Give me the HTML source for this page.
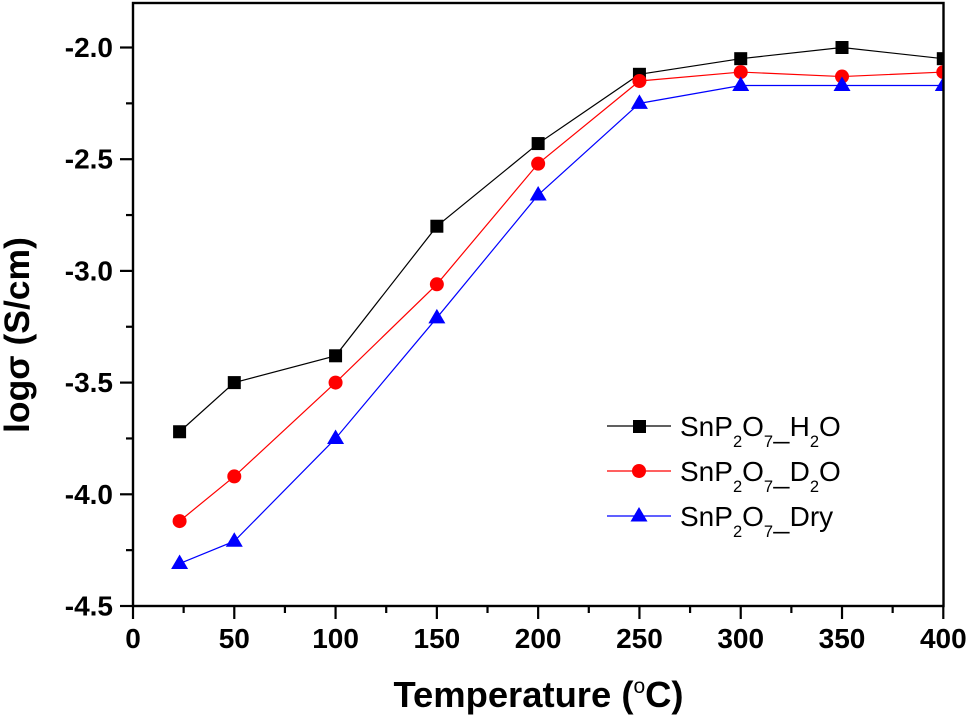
<!DOCTYPE html>
<html>
<head>
<meta charset="utf-8">
<title>Conductivity vs Temperature</title>
<style>
html,body{margin:0;padding:0;background:#fff;width:968px;height:718px;overflow:hidden}
svg{display:block;font-family:"Liberation Sans",sans-serif}
</style>
</head>
<body>
<svg id="chart" width="968" height="718" viewBox="0 0 968 718" xmlns="http://www.w3.org/2000/svg">
<defs><clipPath id="plot-clip"><rect x="133" y="3" width="810.5" height="603"/></clipPath></defs>
<text x="538.5" y="707" text-anchor="middle" font-size="36.4" font-weight="bold">Temperature (<tspan font-size="21" font-weight="normal" dy="-14">o</tspan><tspan dy="14">C)</tspan></text>
<text transform="translate(29,335) rotate(-90)" text-anchor="middle" font-size="35.5" font-weight="bold">logσ (S/cm)</text>
<g id="legend">
<g>
<line x1="607" x2="671" y1="426" y2="426" stroke="#000" stroke-width="1.2"/>
<rect x="633" y="420" width="13" height="13" fill="#000"/>
<text x="680" y="436" font-size="28">SnP<tspan font-size="16.5" dy="11">2</tspan><tspan dy="-11">O</tspan><tspan font-size="16.5" dy="11">7</tspan><tspan font-weight="bold" font-size="16.5" dy="0">—</tspan><tspan dy="-11">H</tspan><tspan font-size="16.5" dy="11">2</tspan><tspan dy="-11">O</tspan></text>
</g>
<g>
<line x1="607" x2="671" y1="471" y2="471" stroke="#f00" stroke-width="1.2"/>
<circle cx="639" cy="471" r="7" fill="#f00"/>
<text x="680" y="481" font-size="28">SnP<tspan font-size="16.5" dy="11">2</tspan><tspan dy="-11">O</tspan><tspan font-size="16.5" dy="11">7</tspan><tspan font-weight="bold" font-size="16.5" dy="0">—</tspan><tspan dy="-11">D</tspan><tspan font-size="16.5" dy="11">2</tspan><tspan dy="-11">O</tspan></text>
</g>
<g>
<line x1="607" x2="671" y1="516" y2="516" stroke="#00f" stroke-width="1.2"/>
<polygon points="639,507 647.5,521.5 630.5,521.5" fill="#00f"/>
<text x="680" y="526" font-size="28">SnP<tspan font-size="16.5" dy="11">2</tspan><tspan dy="-11">O</tspan><tspan font-size="16.5" dy="11">7</tspan><tspan font-weight="bold" font-size="16.5" dy="0">—</tspan><tspan dy="-11">Dry</tspan></text>
</g>
</g>
</svg>
<script>
const temperatures = [23, 50, 100, 150, 200, 250, 300, 350, 400];
const h2oValues = [-3.72, -3.5, -3.38, -2.8, -2.43, -2.12, -2.05, -2.0, -2.05];
const d2oValues = [-4.12, -3.92, -3.5, -3.06, -2.52, -2.15, -2.11, -2.13, -2.11];
const dryValues = [-4.31, -4.21, -3.75, -3.21, -2.66, -2.25, -2.17, -2.17, -2.17];
const xTickLabels = [0, 50, 100, 150, 200, 250, 300, 350, 400];
const yTickLabels = ['-2.0', '-2.5', '-3.0', '-3.5', '-4.0', '-4.5'];

const NS = 'http://www.w3.org/2000/svg';
const svg = document.getElementById('chart');
const legend = document.getElementById('legend');
const xScale = v => 133 + v * (943.3 - 133) / 400;
const yScale = v => 47.5 + (-2 - v) * (606 - 47.5) / 2.5;

function make(tag, attrs, parent) {
  const el = document.createElementNS(NS, tag);
  for (const k in attrs) el.setAttribute(k, attrs[k]);
  (parent || svg).insertBefore(el, parent ? null : legend);
  return el;
}

const plotGroup = make('g', {'clip-path': 'url(#plot-clip)'});



function drawSeries(values, color, kind, name) {
  const g = make('g', {}, plotGroup);
  
  
  const pts = values.map((v, i) => xScale(temperatures[i]) + ',' + yScale(v)).join(' ');
  const line = make('polyline', {points: pts, fill: 'none', stroke: color, 'stroke-width': 1.2}, g);
  
  
  values.forEach((v, i) => {
    const x = xScale(temperatures[i]), y = yScale(v);
    let m;
    if (kind === 'square') m = make('rect', {x: x - 6.5, y: y - 6.5, width: 13, height: 13, fill: color}, g);
    else if (kind === 'circle') m = make('circle', {cx: x, cy: y, r: 7, fill: color}, g);
    else m = make('polygon', {points: `${x},${y - 9} ${x + 8.5},${y + 5.5} ${x - 8.5},${y + 5.5}`, fill: color}, g);
    
    
  });
}
drawSeries(h2oValues, '#000', 'square', 'series-h2o');
drawSeries(d2oValues, '#f00', 'circle', 'series-d2o');
drawSeries(dryValues, '#00f', 'triangle', 'series-dry');

const frame = make('rect', {x: 133, y: 3, width: 810.5, height: 603, fill: 'none', stroke: '#000', 'stroke-width': 2.4});



xTickLabels.forEach((t, i) => {
  const x = xScale(t);
  const tick = make('line', {x1: x, x2: x, y1: 606, y2: 619, stroke: '#000', 'stroke-width': 2.2});
  
  
  const label = make('text', {x: x, y: 648, 'text-anchor': 'middle', 'font-size': 28, 'font-weight': 'bold'});
  
  
  label.textContent = t;
  if (i < xTickLabels.length - 1) {
    const xm = xScale((t + xTickLabels[i + 1]) / 2);
    const minor = make('line', {x1: xm, x2: xm, y1: 606, y2: 613, stroke: '#000', 'stroke-width': 2.2});
    
    
  }
});

yTickLabels.forEach((t, i) => {
  const v = parseFloat(t), y = yScale(v);
  const tick = make('line', {x1: 120, x2: 133, y1: y, y2: y, stroke: '#000', 'stroke-width': 2.2});
  
  
  const label = make('text', {x: 113, y: y + 9.5, 'text-anchor': 'end', 'font-size': 28, 'font-weight': 'bold'});
  
  
  label.textContent = t;
  if (i < yTickLabels.length - 1) {
    const ym = yScale((v + parseFloat(yTickLabels[i + 1])) / 2);
    const minor = make('line', {x1: 126, x2: 133, y1: ym, y2: ym, stroke: '#000', 'stroke-width': 2.2});
    
    
  }
});
</script>
</body>
</html>
